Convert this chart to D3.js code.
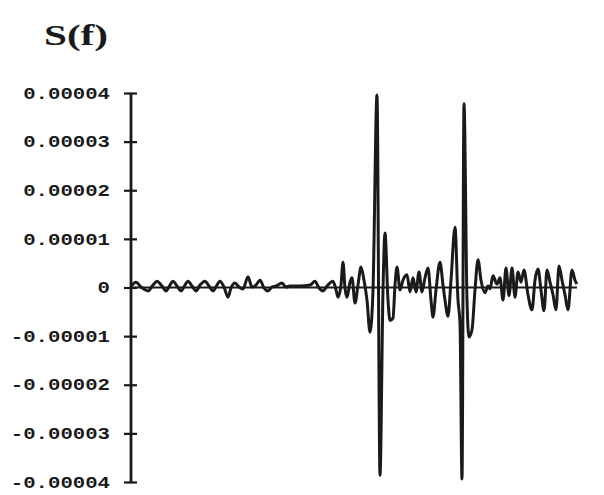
<!DOCTYPE html>
<html>
<head>
<meta charset="utf-8">
<title>S(f)</title>
<script src="https://d3js.org/d3.v7.min.js"></script>
<style>
  body { margin: 0; background: #fff; }
  svg { display: block; }
</style>
</head>
<body>
<svg id="chart" width="604" height="495"></svg>
<script>
// tick positions and the printed labels
const tickValues = [0.00004, 0.00003, 0.00002, 0.00001, 0, -0.00001, -0.00002, -0.00003, -0.00004];
const tickLabels = ["0.00004", "0.00003", "0.00002", "0.00001", "0", "-0.00001", "-0.00002", "-0.00003", "-0.00004"];

// frequency (arbitrary units along the plot) and S(f) in units of 1e-6
const freq = [
  0, 5, 10, 17, 22, 26, 31, 35, 39, 42,
  46, 50, 54, 57, 61, 65, 69, 74, 78, 82,
  86, 89, 93, 97, 100, 104, 108, 112, 117, 121,
  125, 129, 133, 137, 141, 145, 151, 155, 159, 169,
  179, 184, 188, 192, 196, 202, 205, 207, 210, 212,
  214, 216, 219, 221, 224, 227, 230, 233, 236, 239,
  242, 246, 249, 252, 254, 257, 259, 262, 264, 266,
  269, 272, 276, 279, 282, 285, 288, 291, 294, 297,
  300, 302, 305, 309, 312, 314, 317, 320, 324, 327,
  329, 331, 333, 336, 338, 341, 344, 347, 350, 354,
  357, 359, 362, 366, 369, 372, 375, 378, 381, 384,
  387, 390, 393, 397, 401, 404, 407, 410, 413, 416,
  419, 422, 425, 428, 431, 434, 437, 441, 444, 446
];
const sValues = [
  0.3, 1.1, 0.1, -0.7, 0.5, 1.3, 0.3, -0.7, 0.5, 1.3,
  0.3, -0.7, 0.5, 1.3, 0.3, -0.7, 0.5, 1.3, 0.3, -0.7,
  0.5, 1.3, 0.1, -2.0, -0.1, 0.9, 0.1, -0.3, 2.2, 0.1,
  0.5, 1.5, -0.1, -0.7, 0.1, 0.3, 0.9, 0.1, 0.3, 0.3,
  0.5, 1.3, -0.1, -0.7, 0.3, 1.3, -0.5, -2.0, 0.5, 5.2,
  -0.1, -2.0, 1.1, 2.0, -3.2, 0.5, 4.2, 1.5, -2.6, -9.2,
  -0.5, 39.6, -38.6, -0.5, 11.2, -2.6, -6.8, -6.3, 0.5, 4.2,
  -0.5, 1.5, 2.6, -0.9, 2.0, -0.9, 3.2, -0.9, 2.0, 4.0,
  -2.6, -6.1, -0.5, 5.2, 0.5, -2.6, -5.9, 1.5, 12.4, -2.6,
  -7.3, -39.4, 37.8, -2.6, -10.2, -8.7, -0.5, 5.7, 1.5, -1.1,
  0.3, -0.3, 2.4, 0.7, 2.0, -2.6, 4.0, -1.7, 4.0, -2.0,
  3.2, 1.1, 3.6, -1.5, -4.6, 1.5, 3.8, -0.5, -4.8, 3.6,
  1.1, -1.5, -4.6, 4.4, 1.5, -1.5, -4.6, 3.6, 1.5, 0.7
];
const unit = 1e-6;

const ink = "#1a1a1a";
const svg = d3.select("#chart");

const x = d3.scaleLinear().domain([0, 446]).range([131, 577]);
const y = d3.scaleLinear().domain([-0.00004, 0.00004]).range([482, 93]);

// title
svg.append("text")
  .attr("x", 44).attr("y", 45)
  .attr("textLength", 64).attr("lengthAdjust", "spacingAndGlyphs")
  .style("font-family", "'Liberation Serif', 'Times New Roman', serif")
  .style("font-weight", "bold").style("font-size", "30px")
  .attr("fill", ink)
  .text("S(f)");

// y axis
const axis = svg.append("g")
  .attr("transform", "translate(131,0)")
  .call(d3.axisLeft(y).tickValues(tickValues).tickSize(7)
    .tickFormat((d, i) => tickLabels[i]));
axis.select(".domain").remove();
axis.append("line")
  .attr("x1", 0).attr("x2", 0).attr("y1", y(0.00004)).attr("y2", y(-0.00004))
  .attr("stroke", ink).attr("stroke-width", 2.8);
axis.selectAll(".tick line")
  .attr("x1", -7).attr("x2", 6)
  .attr("stroke", ink).attr("stroke-width", 2.2);
axis.selectAll(".tick text")
  .attr("x", -21)
  .attr("fill", ink)
  .attr("textLength", (d, i) => tickLabels[i].length * 12.4)
  .attr("lengthAdjust", "spacingAndGlyphs")
  .style("font-family", "'Liberation Mono', 'Courier New', monospace")
  .style("font-weight", "bold").style("font-size", "16px");

// zero line
svg.append("line")
  .attr("x1", x(0)).attr("x2", x(446)).attr("y1", y(0)).attr("y2", y(0))
  .attr("stroke", ink).attr("stroke-width", 1.8);

// S(f) curve
const points = freq.map((f, i) => [f, sValues[i] * unit]);
const line = d3.line()
  .x(d => x(d[0]))
  .y(d => y(d[1]))
  .curve(d3.curveMonotoneX);

svg.append("path")
  .datum(points)
  .attr("d", line)
  .attr("fill", "none")
  .attr("stroke", ink)
  .attr("stroke-width", 3)
  .attr("stroke-linejoin", "round");
</script>
</body>
</html>
